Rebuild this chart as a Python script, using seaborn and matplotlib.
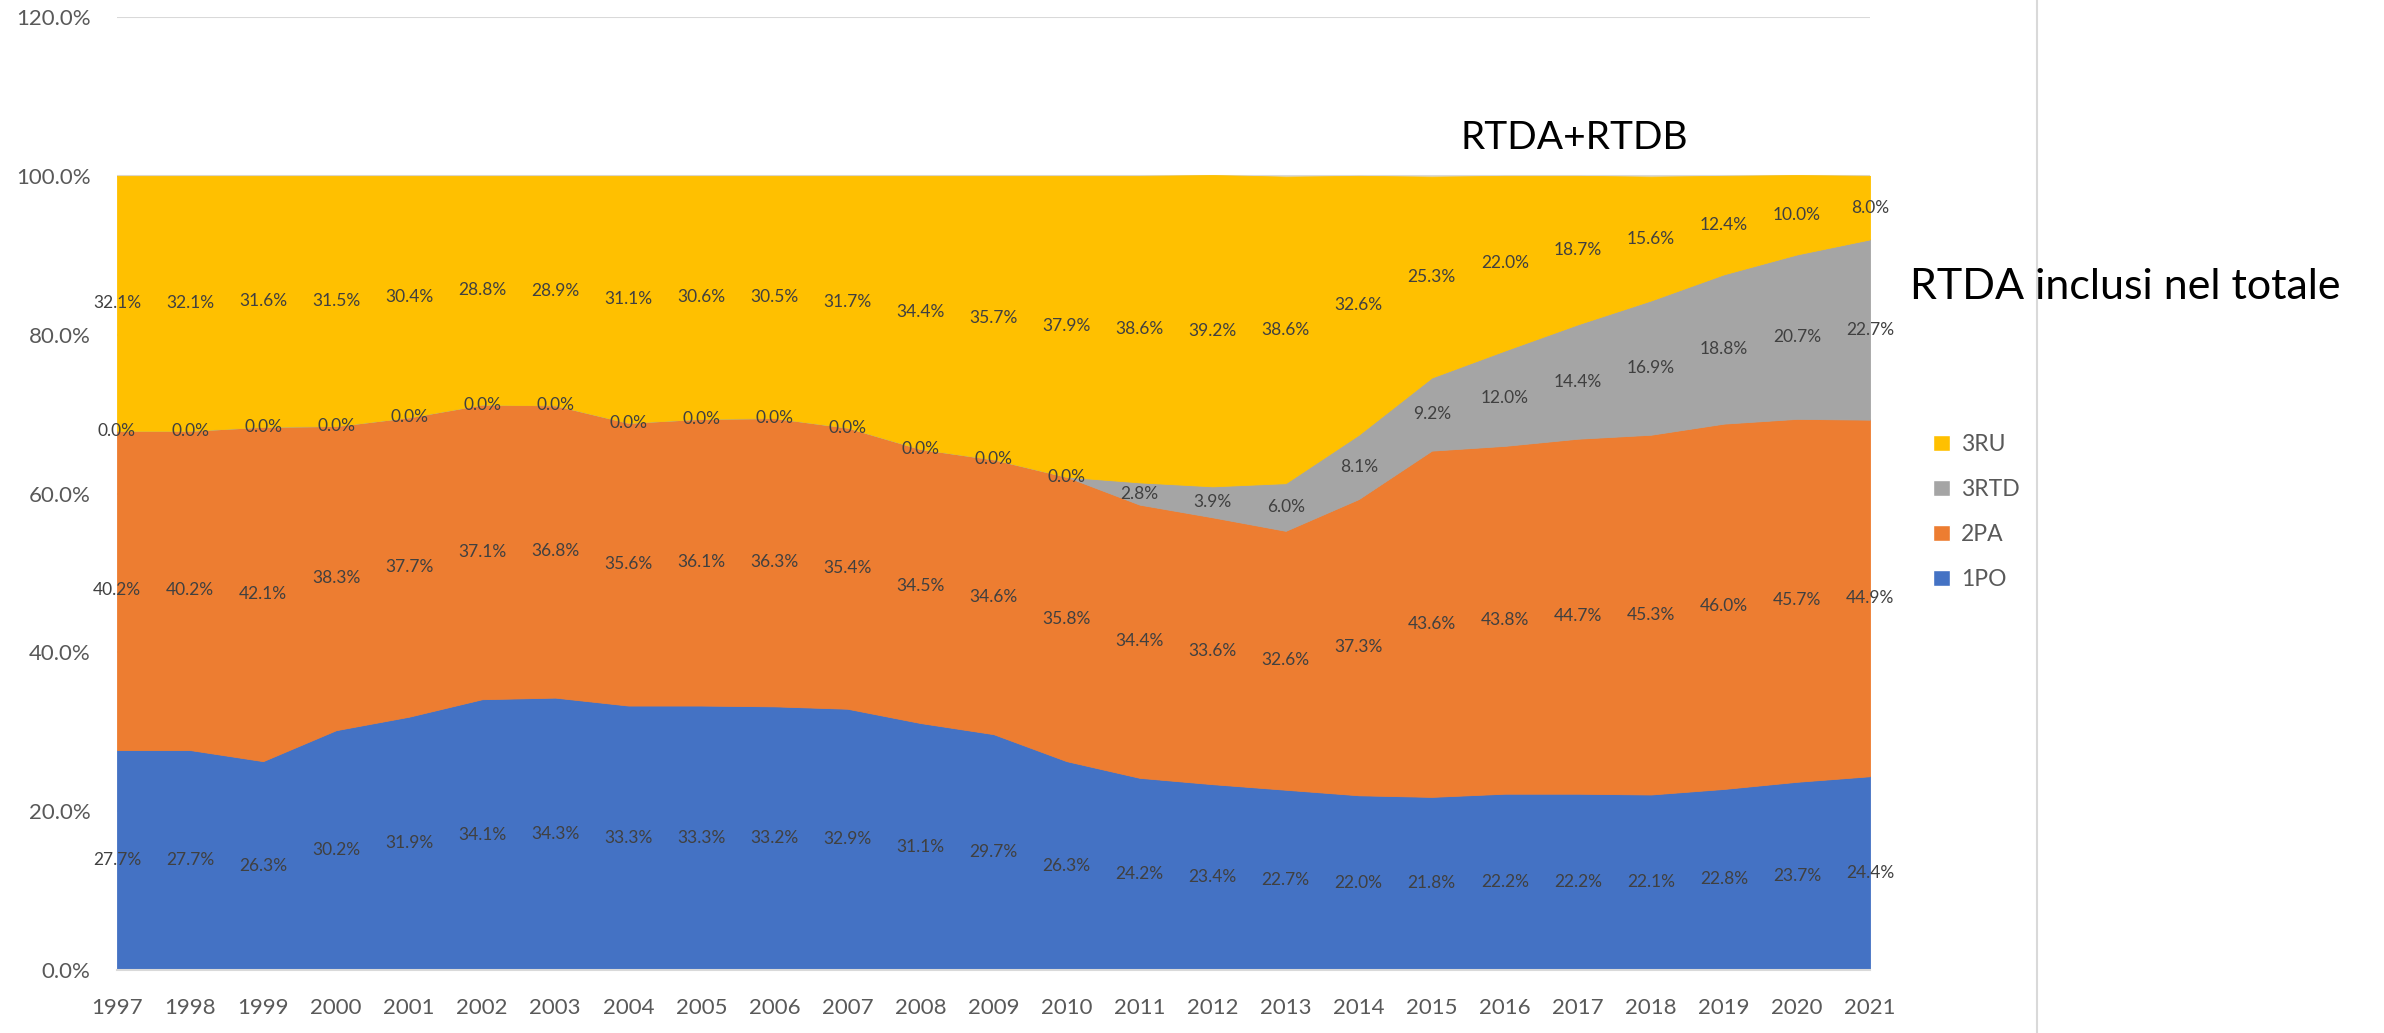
import numpy as np
import pandas as pd
import matplotlib
matplotlib.use("Agg")
import matplotlib.pyplot as plt
from matplotlib.lines import Line2D
from matplotlib.patches import Patch
import seaborn as sns


YEARS = list(range(1997, 2022))
PO_1 = [27.7, 27.7, 26.3, 30.2, 31.9, 34.1, 34.3, 33.3, 33.3, 33.2, 32.9, 31.1, 29.7,
        26.3, 24.2, 23.4, 22.7, 22.0, 21.8, 22.2, 22.2, 22.1, 22.8, 23.7, 24.4]
PA_2 = [40.2, 40.2, 42.1, 38.3, 37.7, 37.1, 36.8, 35.6, 36.1, 36.3, 35.4, 34.5, 34.6,
        35.8, 34.4, 33.6, 32.6, 37.3, 43.6, 43.8, 44.7, 45.3, 46.0, 45.7, 44.9]
RTD_3 = [0.0, 0.0, 0.0, 0.0, 0.0, 0.0, 0.0, 0.0, 0.0, 0.0, 0.0, 0.0, 0.0,
         0.0, 2.8, 3.9, 6.0, 8.1, 9.2, 12.0, 14.4, 16.9, 18.8, 20.7, 22.7]
RU_3 = [32.1, 32.1, 31.6, 31.5, 30.4, 28.8, 28.9, 31.1, 30.6, 30.5, 31.7, 34.4, 35.7,
        37.9, 38.6, 39.2, 38.6, 32.6, 25.3, 22.0, 18.7, 15.6, 12.4, 10.0, 8.0]

SERIES = ['1PO', '2PA', '3RTD', '3RU']
COLORS = ['#4472C4', '#ED7D31', '#A5A5A5', '#FFC000']
Y_TICKS = [0, 20, 40, 60, 80, 100, 120]


def plot_stacked_shares(data):
    sns.set_theme(style="white")
    plt.rcParams['font.family'] = ['Lato', 'DejaVu Sans']

    fig = plt.figure(figsize=(23.84, 10.33), dpi=100)
    ax = fig.add_axes([117 / 2384, 1 - 970 / 1033, (1870 - 117) / 2384, (970 - 17) / 1033])

    ax.set_axisbelow(True)
    ax.grid(True, axis='y', color='#D9D9D9', linewidth=1.5)
    polys = ax.stackplot(data['Year'], [data[s] for s in SERIES],
                         colors=sns.color_palette(COLORS), labels=SERIES, zorder=2)
    for p in polys:
        p.set_linewidth(0.6)
        p.set_edgecolor(p.get_facecolor())

    # data labels in the middle of each band
    bottom = np.zeros(len(data))
    for s in SERIES:
        vals = data[s].to_numpy()
        for x, b, v in zip(data['Year'], bottom, vals):
            ax.text(x, b + v / 2, f"{v:.1f}%", ha='center', va='center',
                    fontsize=12.5, color='#404040', zorder=5, clip_on=False)
        bottom = bottom + vals

    ax.set_xlim(YEARS[0], YEARS[-1])
    ax.set_ylim(0, 120)
    ax.set_xticks(YEARS)
    ax.set_xticklabels([str(y) for y in YEARS])
    ax.set_yticks(Y_TICKS)
    ax.set_yticklabels([f"{t:.1f}%" for t in Y_TICKS])
    ax.tick_params(axis='both', length=0, labelsize=16, labelcolor='#595959')
    ax.tick_params(axis='y', pad=19)
    ax.tick_params(axis='x', pad=20)

    for side in ['top', 'right', 'left']:
        ax.spines[side].set_visible(False)
    ax.spines['bottom'].set_color('#D9D9D9')
    ax.spines['bottom'].set_linewidth(1.5)
    ax.spines['bottom'].set_zorder(3)

    handles = [Patch(facecolor=c) for c in COLORS][::-1]
    fig.legend(handles, SERIES[::-1], loc='center left',
               bbox_to_anchor=(1922 / 2384, 1 - 512 / 1033), frameon=False,
               fontsize=16.5, handlelength=0.7, handleheight=0.7, handletextpad=0.5,
               labelspacing=1.05, labelcolor='#595959', borderpad=0)

    fig.text(1574 / 2384, 1 - 138 / 1033, 'RTDA+RTDB', fontsize=28, ha='center',
             va='center', color='black')
    fig.text(1910 / 2384, 1 - 287 / 1033, 'RTDA inclusi nel totale', fontsize=31,
             ha='left', va='center', color='black')

    fig.add_artist(Line2D([2037 / 2384, 2037 / 2384], [0, 1], color='#D9D9D9',
                          linewidth=1.5, transform=fig.transFigure))

    fig.savefig('out.png', dpi=100)


if __name__ == "__main__":
    shares = pd.DataFrame({'Year': YEARS, '1PO': PO_1, '2PA': PA_2, '3RTD': RTD_3, '3RU': RU_3})
    plot_stacked_shares(shares)
